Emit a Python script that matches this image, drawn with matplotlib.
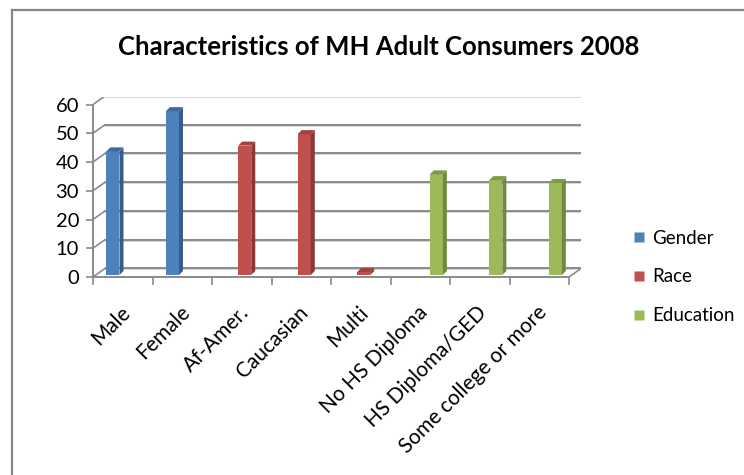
import matplotlib
matplotlib.use("Agg")
import matplotlib.pyplot as plt
from matplotlib.patches import Polygon
from matplotlib.lines import Line2D
import numpy as np

plt.rcParams['font.family'] = ['Lato', 'DejaVu Sans']

# ---- data ----
title = "Characteristics of MH Adult Consumers 2008"
categories = ["Male", "Female", "Af-Amer.", "Caucasian", "Multi",
              "No HS Diploma", "HS Diploma/GED", "Some college or more"]
series_names = ["Gender", "Race", "Education"]
gender = [43, 57, None, None, None, None, None, None]
race = [None, None, 45, 49, 1, None, None, None]
education = [None, None, None, None, None, 35, 33, 32]
yticks = [0, 10, 20, 30, 40, 50, 60]

# ---- styles ----
front_cols = ["#4F81BD", "#C0504D", "#9BBB59"]
side_cols = ["#385D8A", "#8C3836", "#71893F"]
top_cols = ["#3E6A9E", "#A33F3C", "#7E9C48"]
slot_off = [0.335, 0.55, 0.77]

W, H = 744, 475
fig = plt.figure(figsize=(W / 100, H / 100), dpi=100)
fig.patch.set_facecolor("white")

# axes placement in pixels
ax_l, ax_r, ax_t, ax_b = 93, 581, 97, 277
ax = fig.add_axes([ax_l / W, 1 - ax_b / H, (ax_r - ax_l) / W, (ax_b - ax_t) / H])
n = len(categories)
px_x = (569 - 93) / n
px_y = (277 - 105) / 60.0
DX = 12 / px_x
DY = 7.5 / px_y
ax.set_xlim(0, n + DX)
ax.set_ylim(0, 60 + DY)
ax.patch.set_alpha(0)
for s in ["top", "right"]:
    ax.spines[s].set_visible(False)
grid_col = "#8a8a8a"
ax.spines["left"].set_bounds(0, 60)
ax.spines["bottom"].set_bounds(0, n)
for s in ["left", "bottom"]:
    ax.spines[s].set_color(grid_col)
    ax.spines[s].set_linewidth(1.4)

# back wall gridlines + side diagonals
for v in yticks:
    ax.plot([DX, n + DX], [v + DY, v + DY], color="#d6d6d6", lw=1.4,
            zorder=1, solid_capstyle="butt")
    ax.plot([DX, n + DX], [v + DY + 0.35, v + DY + 0.35], color=grid_col, lw=1.4,
            zorder=1.1, solid_capstyle="butt")
    ax.plot([0, DX], [v, v + DY + 0.35], color=grid_col, lw=1.2, zorder=1.1)
# floor right edge
ax.plot([n, n + DX], [0, DY + 0.35], color=grid_col, lw=1.2, zorder=1.1)

# bars
BW = 0.22
SDX = 4 / px_x
SDY = 4 / px_y
BASE = 0.7
x = np.arange(n)
for si, vals in enumerate([gender, race, education]):
    for i, v in enumerate(vals):
        if v is None:
            continue
        x0 = x[i] + slot_off[si] - BW / 2
        ax.bar(x0, v, width=BW, bottom=BASE, align="edge", color=front_cols[si],
               edgecolor="none", zorder=3)
        top = BASE + v
        side = Polygon([[x0 + BW, BASE], [x0 + BW, top], [x0 + BW + SDX, top + SDY],
                        [x0 + BW + SDX, BASE + SDY]], closed=True,
                       facecolor=side_cols[si], edgecolor="none", zorder=3)
        topf = Polygon([[x0, top], [x0 + BW, top], [x0 + BW + SDX, top + SDY],
                        [x0 + SDX, top + SDY]], closed=True,
                       facecolor=top_cols[si], edgecolor="none", zorder=3)
        ax.add_patch(side)
        ax.add_patch(topf)

# ticks
ax.set_yticks(yticks)
ax.set_yticklabels([str(t) for t in yticks], fontsize=14.5, color="#000000")
ax.tick_params(axis="y", length=5, width=1.2, color=grid_col, pad=5)
ax.set_xticks(x + 0.5 - 3 / px_x)
ax.set_xticklabels(categories, rotation=45, ha="right", rotation_mode="anchor",
                   fontsize=15, color="#000000")
ax.tick_params(axis="x", which="major", length=0, pad=18)
ax.set_xticks(np.arange(n + 1), minor=True)
ax.tick_params(axis="x", which="minor", length=6, width=1.2, color=grid_col)

# title
fig.text(379 / W, 1 - 47 / H, title, ha="center", va="center",
         fontsize=18.5, fontweight="bold", color="#000000")

# frame
fig.add_artist(Line2D([12 / W, 12 / W], [0, 1 - 10 / H], transform=fig.transFigure,
                      color="#868686", lw=1.6))
fig.add_artist(Line2D([12 / W, 1], [1 - 10 / H, 1 - 10 / H], transform=fig.transFigure,
                      color="#868686", lw=1.6))

# legend
handles = [Line2D([], [], marker="s", linestyle="none", markersize=7.3,
                  markerfacecolor=c, markeredgecolor="none") for c in front_cols]
fig.legend(handles, series_names, loc="center left",
           bbox_to_anchor=(622 / W, 1 - 277 / H), frameon=False, fontsize=13.5,
           handlelength=0.8, handletextpad=0.3, labelspacing=1.15, borderpad=0)

fig.savefig("out.png", dpi=100)
